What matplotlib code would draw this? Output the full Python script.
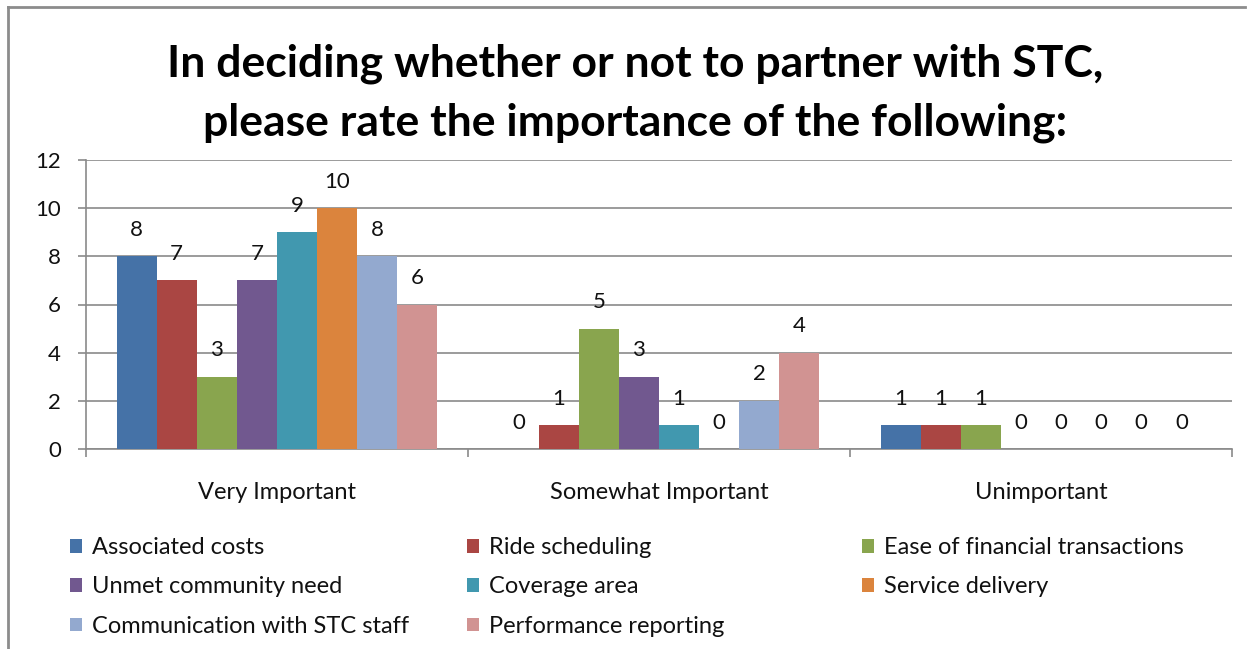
import matplotlib.pyplot as plt
import numpy as np
from matplotlib.lines import Line2D

plt.rcParams['font.family'] = ['Lato', 'DejaVu Sans']

# survey answers: count of respondents per factor and rating
categories = ["Very Important", "Somewhat Important", "Unimportant"]
factors = ["Associated costs", "Ride scheduling", "Ease of financial transactions",
           "Unmet community need", "Coverage area", "Service delivery",
           "Communication with STC staff", "Performance reporting"]
associated_costs = [8, 0, 1]
ride_scheduling = [7, 1, 1]
ease_financial = [3, 5, 1]
unmet_need = [7, 3, 0]
coverage_area = [9, 1, 0]
service_delivery = [10, 0, 0]
communication_staff = [8, 2, 0]
performance_reporting = [6, 4, 0]
series = [associated_costs, ride_scheduling, ease_financial, unmet_need,
          coverage_area, service_delivery, communication_staff, performance_reporting]
colors = ["#4572A7", "#AA4643", "#89A54E", "#71588F",
          "#4198AF", "#DB843D", "#93A9CF", "#D19392"]

W, H = 1253, 649
fig = plt.figure(figsize=(W / 100, H / 100), dpi=100)
ax = fig.add_axes([86 / W, 1 - 449 / H, (1232 - 86) / W, (449 - 160) / H])

grid_col = "#8a8a8a"
text_col = "#111111"
x = np.arange(len(categories))
bw = 0.105
bars = []
for i, (vals, col) in enumerate(zip(series, colors)):
    b = ax.bar(x + (i - 3.5) * bw, vals, bw, color=col, label=factors[i], zorder=3)
    bars.append(b)
    for xi, v in zip(x + (i - 3.5) * bw, vals):
        ax.annotate(str(v), (xi, v), xytext=(0, 19), textcoords="offset points",
                    ha="center", va="center", fontsize=16, color=text_col, zorder=4)

ax.set_xlim(-0.5, 2.5)
ax.set_ylim(0, 12)
ax.set_yticks(range(0, 13, 2))
ax.yaxis.grid(True, color=grid_col, linewidth=1.2, zorder=0)
ax.set_xticks(x)
ax.set_xticklabels(categories)
ax.set_xticks([-0.5, 0.5, 1.5, 2.5], minor=True)
ax.tick_params(axis="x", which="major", length=0, pad=23.5, labelsize=17, labelcolor=text_col)
ax.tick_params(axis="x", which="minor", length=6, width=1.2, color=grid_col)
ax.tick_params(axis="y", length=6, width=1.2, color=grid_col, pad=12,
               labelsize=16, labelcolor=text_col)
for s in ["top", "right"]:
    ax.spines[s].set_visible(False)
for s in ["left", "bottom"]:
    ax.spines[s].set_color(grid_col)
    ax.spines[s].set_linewidth(1.2)

fig.text(635 / W, 1 - 64 / H, "In deciding whether or not to partner with STC,",
         ha="center", va="center", fontsize=32, fontweight="bold", color="#000000")
fig.text(635 / W, 1 - 123 / H, "please rate the importance of the following:",
         ha="center", va="center", fontsize=32, fontweight="bold", color="#000000")

# legend laid out row by row in three columns
col_x = [70, 467, 862]
for c in range(3):
    idx = list(range(c, len(factors), 3))
    fig.legend([bars[k] for k in idx], [factors[k] for k in idx],
               loc="upper left", bbox_to_anchor=(col_x[c] / W, 1 - 537 / H),
               frameon=False, fontsize=17, borderpad=0, borderaxespad=0,
               handlelength=0.52, handleheight=0.52, handletextpad=0.42,
               labelspacing=0.78, labelcolor=text_col)

# chart frame
fig.add_artist(Line2D([8 / W, 8 / W], [0, 1 - 7 / H], color="#8c8c8c", linewidth=2))
fig.add_artist(Line2D([8 / W, 1245 / W], [1 - 7 / H, 1 - 7 / H], color="#8c8c8c", linewidth=2))

fig.savefig("out.png", dpi=100)
